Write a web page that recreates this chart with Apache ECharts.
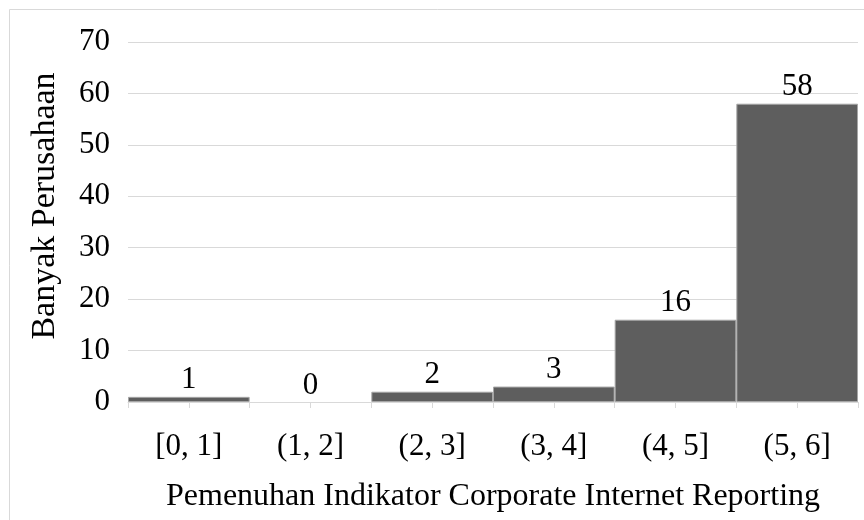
<!DOCTYPE html>
<html>
<head>
<meta charset="utf-8">
<script src="https://cdn.jsdelivr.net/npm/echarts@6/dist/echarts.min.js"></script>
<style>
  html, body { margin: 0; padding: 0; background: #fff; }
  #chart { width: 864px; height: 520px; }
</style>
</head>
<body>
<div id="chart"></div>
<script>
// Histogram bins and company counts
const bins = ['[0, 1]', '(1, 2]', '(2, 3]', '(3, 4]', '(4, 5]', '(5, 6]'];
const counts = [1, 0, 2, 3, 16, 58];
const yTicks = { min: 0, max: 70, interval: 10 };

const serif = '"Liberation Serif", "Times New Roman", serif';
const gridColor = '#d9d9d9';
const labelSize = 31;

// empty bins get no outline so no stray line sits on the axis
const barData = counts.map(v => v === 0
  ? { value: v, itemStyle: { borderWidth: 0 } }
  : { value: v });

const chart = echarts.init(document.getElementById('chart'), null, { renderer: 'canvas' });

chart.setOption({
  backgroundColor: '#fff',
  animation: false,
  graphic: [{
    type: 'rect',
    shape: { x: 9.5, y: 9.5, width: 900, height: 600 },
    style: { fill: 'none', stroke: gridColor, lineWidth: 1 },
    silent: true,
    z: -10
  }],
  grid: { left: 128, right: 6, top: 42, bottom: 118, containLabel: false },
  xAxis: [{
    type: 'category',
    data: bins,
    boundaryGap: true,
    axisLine: { show: true, lineStyle: { color: gridColor, width: 1 } },
    axisTick: { show: true, alignWithLabel: false, length: 6, lineStyle: { color: gridColor } },
    axisLabel: { color: '#000', fontFamily: serif, fontSize: labelSize, margin: 29 },
    name: 'Pemenuhan Indikator Corporate Internet Reporting',
    nameLocation: 'middle',
    nameGap: 79,
    nameTextStyle: { color: '#000', fontFamily: serif, fontSize: 32 }
  }, {
    // second copy of the category axis carries the mid-bin ticks
    type: 'category',
    data: bins,
    position: 'bottom',
    boundaryGap: true,
    axisLine: { show: false },
    axisTick: { show: true, alignWithLabel: true, length: 6, lineStyle: { color: gridColor } },
    axisLabel: { show: false }
  }],
  yAxis: {
    type: 'value',
    min: yTicks.min,
    max: yTicks.max,
    interval: yTicks.interval,
    axisLine: { show: false },
    axisTick: { show: false },
    splitLine: { show: true, lineStyle: { color: gridColor, width: 1 } },
    axisLabel: { color: '#000', fontFamily: serif, fontSize: labelSize, margin: 18 },
    name: 'Banyak Perusahaan',
    nameLocation: 'middle',
    nameGap: 66,
    nameRotate: 90,
    nameTextStyle: { color: '#000', fontFamily: serif, fontSize: 34, padding: [0, 0, 0, 32] }
  },
  series: [{
    type: 'bar',
    data: barData,
    xAxisIndex: 0,
    barCategoryGap: '0%',
    itemStyle: { color: '#5e5e5e', borderColor: '#a6a6a6', borderWidth: 1 },
    label: {
      show: true,
      position: 'top',
      distance: 1,
      color: '#000',
      fontFamily: serif,
      fontSize: labelSize
    }
  }]
});
</script>
</body>
</html>
